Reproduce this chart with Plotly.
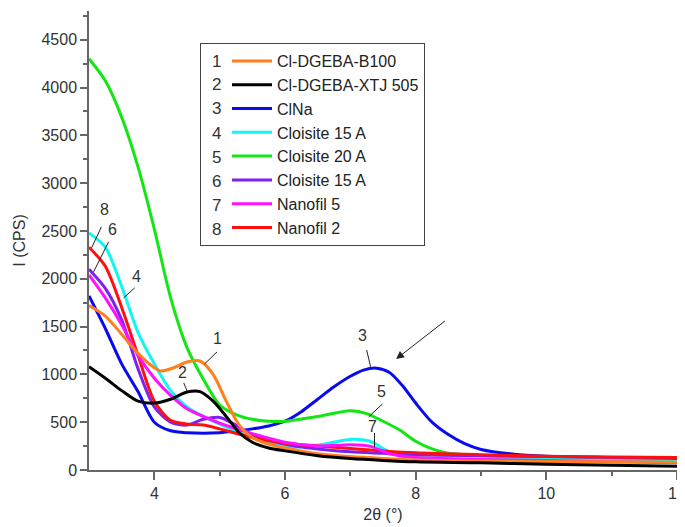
import plotly.graph_objects as go

# ---- data ----
names = ["Cl-DGEBA-B100", "Cl-DGEBA-XTJ 505", "ClNa", "Cloisite 15 A",
         "Cloisite 20 A", "Cloisite 15 A", "Nanofil 5", "Nanofil 2"]
colors = ["#FF7F1A", "#000000", "#0A0AF0", "#10F5F5",
          "#14E614", "#8020F0", "#FF10FF", "#FF1010"]

x1 = [3, 3.25, 3.5, 3.75, 4, 4.1, 4.3, 4.5, 4.7, 4.9, 5.1, 5.3, 5.5, 5.75, 6, 6.5, 7, 7.5, 8, 9, 10, 11, 12]
y1 = [1720, 1610, 1420, 1220, 1070, 1035, 1070, 1130, 1140, 1000, 720, 470, 340, 270, 230, 170, 140, 120, 105, 95, 90, 85, 80]

x2 = [3, 3.25, 3.5, 3.75, 4, 4.25, 4.5, 4.7, 4.9, 5.1, 5.3, 5.5, 5.75, 6, 6.5, 7, 7.5, 8, 9, 10, 11, 12]
y2 = [1080, 960, 830, 720, 700, 740, 815, 820, 720, 560, 390, 290, 230, 200, 150, 120, 100, 85, 75, 60, 50, 40]

x3 = [3, 3.25, 3.5, 3.75, 4, 4.25, 4.5, 5, 5.5, 5.75, 6, 6.25, 6.5, 6.75, 7, 7.2, 7.4, 7.6, 7.8, 8, 8.25, 8.5, 8.75, 9, 9.5, 10, 11, 12]
y3 = [1820, 1480, 1110, 820, 500, 410, 390, 390, 430, 460, 510, 610, 740, 870, 980, 1045, 1065, 1020, 880, 700, 500, 370, 275, 215, 165, 145, 130, 115]

x4 = [3, 3.25, 3.5, 3.75, 4, 4.25, 4.5, 4.75, 5, 5.5, 6, 6.5, 7, 7.3, 7.6, 8, 9, 10, 11, 12]
y4 = [2480, 2330, 1920, 1440, 1110, 830, 660, 560, 480, 340, 240, 260, 320, 300, 190, 130, 115, 110, 105, 100]

x5 = [3, 3.25, 3.5, 3.75, 4, 4.25, 4.5, 4.75, 5, 5.25, 5.5, 5.75, 6, 6.5, 7, 7.25, 7.5, 7.75, 8, 8.25, 8.5, 9, 10, 11, 12]
y5 = [4300, 4070, 3690, 3170, 2520, 1800, 1280, 950, 680, 580, 530, 510, 510, 560, 620, 590, 510, 420, 300, 220, 175, 150, 130, 115, 105]

x6 = [3, 3.25, 3.5, 3.75, 4, 4.25, 4.5, 4.75, 5, 5.25, 5.5, 6, 6.5, 7, 7.5, 8, 9, 10, 11, 12]
y6 = [2100, 1900, 1570, 1060, 660, 500, 470, 530, 550, 470, 370, 270, 220, 190, 175, 160, 150, 140, 130, 120]

x7 = [3, 3.25, 3.5, 3.75, 4, 4.25, 4.5, 4.75, 5, 5.5, 6, 6.5, 7, 7.3, 7.6, 8, 9, 10, 11, 12]
y7 = [2040, 1800, 1520, 1200, 960, 780, 640, 560, 490, 380, 290, 250, 265, 250, 170, 130, 110, 100, 85, 75]

x8 = [3, 3.25, 3.5, 3.75, 4, 4.25, 4.5, 4.75, 5, 5.5, 6, 6.5, 7, 7.5, 8, 9, 10, 11, 12]
y8 = [2330, 2130, 1700, 1200, 720, 520, 480, 470, 430, 340, 280, 250, 225, 200, 180, 160, 145, 135, 130]

xs = [x1, x2, x3, x4, x5, x6, x7, x8]
ys = [y1, y2, y3, y4, y5, y6, y7, y8]

# curve labels: (text, text x, text y, line x0, y0, x1, y1)
labels = [
    ("8", 3.24, 2720, 3.19, 2543, 3.04, 2323),
    ("6", 3.36, 2510, 3.30, 2386, 3.07, 2072),
    ("4", 3.73, 2020, 3.70, 1905, 3.53, 1800),
    ("1", 4.97, 1380, 4.96, 1235, 4.77, 1110),
    ("2", 4.43, 1015, 4.45, 910, 4.50, 830),
    ("3", 7.19, 1410, 7.25, 1255, 7.31, 1080),
    ("5", 7.47, 820, 7.49, 690, 7.28, 555),
    ("7", 7.34, 460, 7.37, 387, 7.37, 240),
]

FONT = "Liberation Sans, Arial, sans-serif"
TXT = "#333333"

# page geometry (the page body has an 8px margin)
OFF = 8
PL, PR, PT, PB = 89, 677, 11, 470
PW, PH = PR - PL, PB - PT

fig = go.Figure()
draw_order = [2, 4, 3, 5, 7, 6, 0, 1]
for i in draw_order:
    fig.add_trace(go.Scatter(
        x=xs[i], y=ys[i], mode="lines", name=names[i],
        line=dict(color=colors[i], width=3, shape="spline", smoothing=0.8),
        legendrank=i + 1,
    ))

for t, tx, ty, lx0, ly0, lx1, ly1 in labels:
    fig.add_annotation(x=tx, y=ty, text=t, showarrow=False,
                       xanchor="center", yanchor="middle",
                       font=dict(size=16, color=TXT, family=FONT))
    fig.add_shape(type="line", x0=lx0, y0=ly0, x1=lx1, y1=ly1,
                  line=dict(color="#222222", width=1))

# pointing arrow
fig.add_annotation(x=7.70, y=1160, ax=8.47, ay=1570, axref="x", ayref="y",
                   text="", showarrow=True, arrowhead=2, arrowsize=1.6,
                   arrowwidth=1, arrowcolor="#222222")

# legend numbers
row_y = [61, 85, 109, 133, 157, 181, 205, 229]
for k, py in enumerate(row_y):
    fig.add_annotation(xref="paper", yref="paper",
                       x=(216 - PL) / PW, y=(PB - py) / PH,
                       xanchor="center", yanchor="middle",
                       text=str(k + 1), showarrow=False,
                       font=dict(size=17, color=TXT, family=FONT))

fig.update_layout(
    width=685 - OFF, height=527 - OFF,
    margin=dict(l=PL - OFF, r=685 - PR, t=PT - OFF, b=527 - PB),
    paper_bgcolor="white", plot_bgcolor="white",
    font=dict(family=FONT, size=16, color=TXT),
    showlegend=True,
    legend=dict(x=(200 - PL) / PW, y=(PB - 43) / PH, xanchor="left", yanchor="top",
                bordercolor="#444444", borderwidth=1, bgcolor="white",
                font=dict(size=16, color="#222222", family=FONT),
                traceorder="normal", indentation=26, itemwidth=40),
    xaxis=dict(range=[3, 12], showgrid=False, zeroline=False, automargin=False,
               showline=True, linecolor="#666666", linewidth=1.5,
               tickvals=[4, 6, 8, 10, 12], ticks="outside", ticklen=8,
               tickcolor="#666666", tickwidth=1.5, ticklabeloverflow="allow",
               minor=dict(tickvals=[5, 7, 9, 11], ticks="outside", ticklen=4,
                          tickcolor="#666666", tickwidth=1.5),
               title=dict(text="2θ (°)", font=dict(size=16, color=TXT), standoff=8),
               tickfont=dict(size=16, color=TXT)),
    yaxis=dict(range=[0, 4800], showgrid=False, zeroline=False, automargin=False,
               showline=True, linecolor="#666666", linewidth=1.5,
               tickvals=list(range(0, 4501, 500)), ticks="outside", ticklen=7,
               tickcolor="#666666", tickwidth=1.5,
               minor=dict(tickvals=list(range(250, 4800, 500)), ticks="outside", ticklen=4,
                          tickcolor="#666666", tickwidth=1.5),
               title=dict(text="I (CPS)", font=dict(size=16, color=TXT), standoff=12),
               tickfont=dict(size=16, color=TXT)),
)

fig.write_html("out.html")
